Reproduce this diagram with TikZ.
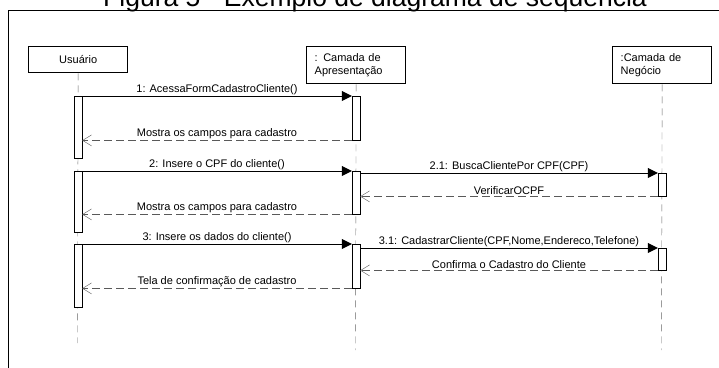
\documentclass[tikz,border=0pt]{standalone}
\usepackage{fontspec}
\setmainfont{Liberation Sans}
\usepackage{tikz}
\usetikzlibrary{positioning, arrows, arrows.meta, shapes}
\tikzstyle{participant} = [rectangle, draw=black, line width=1.4pt, anchor=north west, minimum width=99pt, minimum height=37pt, text width=83pt, inner xsep=8pt, inner ysep=0pt, align=left, font=\fontsize{11}{13}\selectfont]
\tikzstyle{activation} = [rectangle, draw=black, fill=white, anchor=north, minimum width=8pt, inner sep=0pt]
\tikzstyle{lifeline} = [draw=gray!80!black, dash pattern=on 7pt off 5pt]
\tikzstyle{call} = [-{Triangle[length=10pt,width=10pt]}]
\tikzstyle{reply} = [draw=gray!70!black, dash pattern=on 8pt off 4pt, -{Straight Barb[length=9pt,width=11pt]}]
\tikzstyle{msg} = [midway, above, inner sep=1.5pt, text=black, font=\fontsize{11}{13}\selectfont]
\begin{document}
\begin{tikzpicture}[x=1pt, y=-1pt]
        \useasboundingbox (0,0) rectangle (719,367);
        \clip (0,0) rectangle (719,367);
        \node (title) [anchor=base, font=\fontsize{26.5}{30}\selectfont] at (375,6) {Figura 5 - Exemplo de diagrama de sequência};
        \draw [line width=1pt] (8,380) |- (730,10);

        \node (usuario) [participant, minimum height=26pt, align=center] at (28,46) {Usuário};
        \node (apresentacao) [participant] at (306,46) {: Camada de\\Apresentação};
        \node (negocio) [participant] at (612,46) {:Camada de\\Negócio};
        \coordinate (usuario_end) at (77.5,343);
        \coordinate (apresentacao_end) at (355.5,350);
        \coordinate (negocio_end) at (661.5,350);

        \draw [lifeline] (usuario) -- (usuario_end);
        \draw [lifeline] (apresentacao) -- (apresentacao_end);
        \draw [lifeline] (negocio) -- (negocio_end);

        \node (ua1) [activation, minimum height=62pt] at (78,96) {};
        \node (ua2) [activation, minimum height=61pt] at (78,171) {};
        \node (ua3) [activation, minimum height=63pt] at (78,244) {};
        \node (aa1) [activation, minimum height=44pt] at (356,96) {};
        \node (aa2) [activation, minimum height=43pt] at (356,171) {};
        \node (aa3) [activation, minimum height=44pt] at (356,244) {};
        \node (na2) [activation, minimum height=23pt] at (662,173) {};
        \node (na3) [activation, minimum height=22pt] at (662,248) {};

        \draw [call] (ua1.north east) -- (aa1.north west) node [msg] {1: AcessaFormCadastroCliente()};
        \draw [reply] (aa1.south west) -- (aa1.south west -| ua1.east) node [msg] {Mostra os campos para cadastro};
        \draw [call] (ua2.north east) -- (aa2.north west) node [msg] {2: Insere o CPF do cliente()};
        \draw [call] (aa2.east |- na2.north) -- (na2.north west) node [msg] {2.1: BuscaClientePor CPF(CPF)};
        \draw [reply] (na2.south west) -- (na2.south west -| aa2.east) node [msg] {VerificarOCPF};
        \draw [reply] (aa2.south west) -- (aa2.south west -| ua2.east) node [msg] {Mostra os campos para cadastro};
        \draw [call] (ua3.north east) -- (aa3.north west) node [msg] {3: Insere os dados do cliente()};
        \draw [call] (aa3.east |- na3.north) -- (na3.north west) node [msg] {3.1: CadastrarCliente(CPF,Nome,Endereco,Telefone)};
        \draw [reply] (na3.south west) -- (na3.south west -| aa3.east) node [msg] {Confirma o Cadastro do Cliente};
        \draw [reply] (aa3.south west) -- (aa3.south west -| ua3.east) node [msg] {Tela de confirmação de cadastro};

        \end{tikzpicture}
\end{document}
